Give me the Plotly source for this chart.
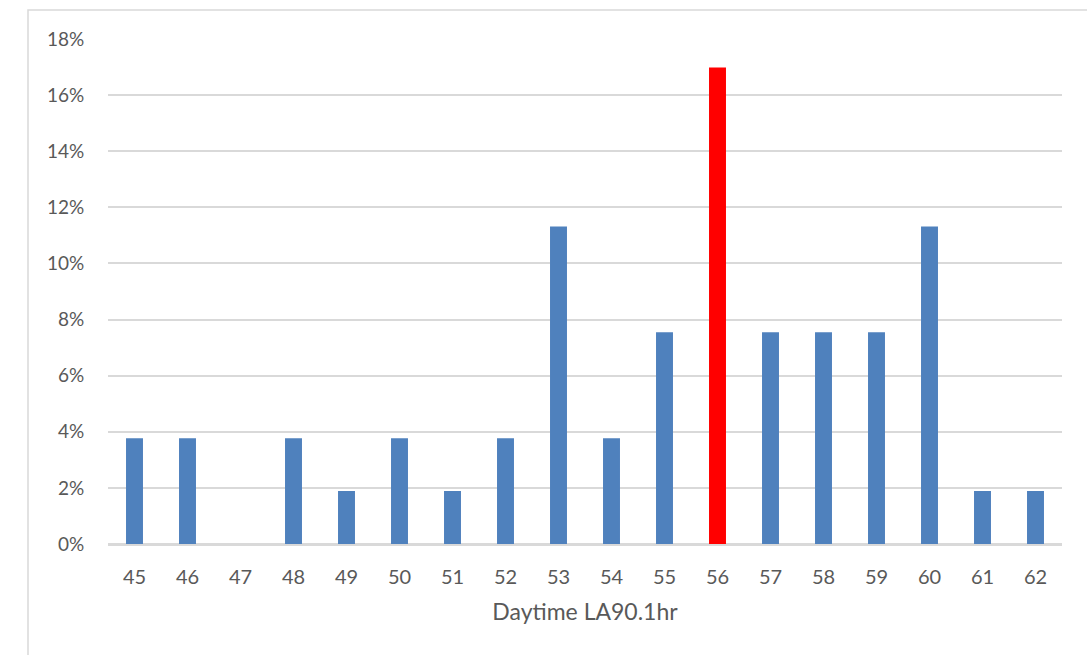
import plotly.graph_objects as go

# Daytime LA90 (1-hour) histogram, share of samples per dB bin
levels = [45, 46, 47, 48, 49, 50, 51, 52, 53, 54, 55, 56, 57, 58, 59, 60, 61, 62]
counts = [2, 2, 0, 2, 1, 2, 1, 2, 6, 2, 4, 9, 4, 4, 4, 6, 1, 1]
highlight_level = 56

total = sum(counts)
shares = [c / total for c in counts]
colors = ["#FF0000" if lv == highlight_level else "#4F81BD" for lv in levels]

W, H = 1087, 655
ml, mr, mt, mb = 108, 25, 39, 111
plot_w = W - ml - mr
plot_h = H - mt - mb

fig = go.Figure(
    go.Bar(
        x=[str(lv) for lv in levels],
        y=shares,
        marker=dict(color=colors, line=dict(width=0)),
        hovertemplate="%{x}: %{y:.1%}<extra></extra>",
    )
)

grid = "#D9D9D9"
txt = "#595959"
font = "Lato, Carlito, Calibri, 'Liberation Sans', sans-serif"

fig.update_layout(
    width=W,
    height=H,
    margin=dict(l=ml, r=mr, t=mt, b=mb),
    paper_bgcolor="white",
    plot_bgcolor="white",
    bargap=0.68,
    showlegend=False,
    font=dict(family=font, size=19, color=txt),
    xaxis=dict(
        type="category",
        showgrid=False,
        showline=True,
        linecolor=grid,
        linewidth=1.5,
        ticks="outside",
        ticklen=14,
        tickcolor="rgba(0,0,0,0)",
        tickfont=dict(size=20, color=txt),
        title=dict(text="Daytime LA90.1hr", font=dict(size=23, color=txt), standoff=17),
    ),
    yaxis=dict(
        range=[0, 0.18],
        dtick=0.02,
        tickformat=".0%",
        showgrid=True,
        gridcolor=grid,
        gridwidth=1.5,
        zeroline=True,
        zerolinecolor=grid,
        zerolinewidth=1.5,
        ticks="outside",
        ticklen=19,
        tickcolor="rgba(0,0,0,0)",
        tickfont=dict(size=19, color=txt),
    ),
)

# Chart frame: left and top edges visible, the rest runs off the page
fig.add_shape(
    type="rect",
    xref="paper",
    yref="paper",
    x0=(28 - ml) / plot_w,
    x1=1.5,
    y0=-1.0,
    y1=(H - mb - 10) / plot_h,
    line=dict(color="#D9D9D9", width=1.5),
    fillcolor="rgba(0,0,0,0)",
    layer="below",
)

fig.write_html("out.html")
